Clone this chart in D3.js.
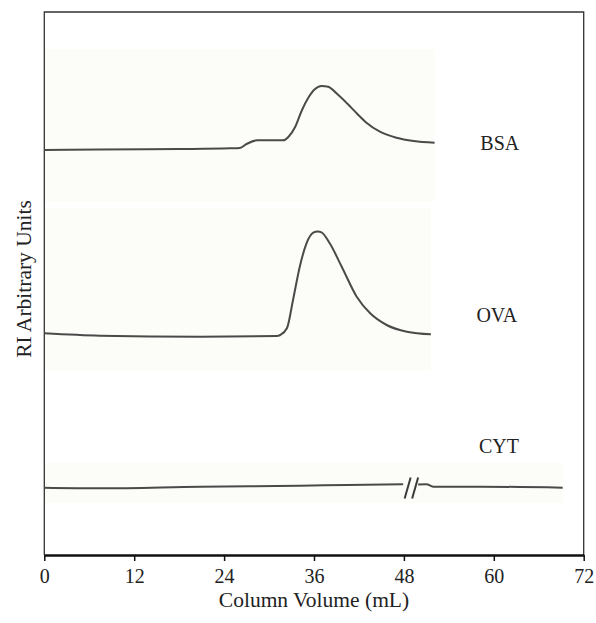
<!DOCTYPE html>
<html>
<head>
<meta charset="utf-8">
<script src="https://cdn.jsdelivr.net/npm/d3@7"></script>
<style>
  html, body { margin: 0; padding: 0; background: #fff; }
  svg { display: block; }
  text { font-family: "Liberation Serif", "Times New Roman", serif; fill: #222; }
</style>
</head>
<body>
<svg id="chart" width="596" height="623"></svg>
<script>
// ---- data (Column volume in mL, RI in arbitrary units) ----
const xTicks = [0, 12, 24, 36, 48, 60, 72];

const bsaX = [0, 7.4, 18.1, 24.8, 26.1, 27.0, 28.4, 31.9, 32.6, 33.5, 34.4, 35.2, 36.1, 37.0, 37.9, 39.0, 40.4, 41.7, 43.0, 44.8, 47.0, 49.3, 52.1];
const bsaY = [405, 405.5, 406, 406.7, 407, 411, 414.7, 414.7, 418.3, 428.3, 445, 456.7, 465.7, 469, 468.3, 461.7, 451.7, 441.7, 432.3, 423.3, 417.3, 414, 412.3];

const ovaX = [0, 7.4, 20.8, 31.0, 31.5, 32.4, 33.2, 34.1, 35.0, 35.9, 36.5, 37.0, 38.1, 39.7, 41.7, 43.5, 45.7, 48.4, 51.6];
const ovaY = [221.7, 219.3, 218.3, 219, 220, 227, 255, 288.3, 311.7, 322.3, 323.5, 322.7, 311.7, 288.3, 258.3, 241.7, 230, 223.3, 220.7];

const cytLeftX = [0, 7.4, 20.8, 34.1, 40.4, 47.9];
const cytLeftY = [67.3, 66.7, 68.3, 69.3, 70, 70.7];
const cytRightX = [49.9, 51.0, 51.9, 58.2, 69.2];
const cytRightY = [70.5, 70.8, 68.3, 68.3, 67.3];
const breakX = [48.5, 49.5];
const breakY = 67;

const seriesNames = ["BSA", "OVA", "CYT"];
const labelX = [60.8, 60.4, 60.7];
const labelY = [405, 233.3, 102];

// scanned trace backgrounds: [x0, x1, y0, y1]
const panelX0 = [0, 0, 0];
const panelX1 = [52.0, 51.6, 69.2];
const panelY0 = [353.3, 185, 52];
const panelY1 = [506, 347, 92.3];

// ---- drawing ----
const svg = d3.select("#chart");
const mLeft = 44.3, mRight = 583.7, mTop = 12, mBottom = 555;
const x = d3.scaleLinear().domain([0, 72]).range([mLeft, mRight]);
const y = d3.scaleLinear().domain([0, 543]).range([mBottom, mTop]);

// panels
svg.append("g").selectAll("rect").data(seriesNames).join("rect")
  .attr("x", (d, i) => x(panelX0[i]))
  .attr("width", (d, i) => x(panelX1[i]) - x(panelX0[i]))
  .attr("y", (d, i) => y(panelY1[i]))
  .attr("height", (d, i) => y(panelY0[i]) - y(panelY1[i]))
  .attr("fill", "#fcfcf8");

// frame (top, left, right)
svg.append("path")
  .attr("d", `M${mLeft},${mBottom} V${mTop} H${mRight} V${mBottom}`)
  .attr("fill", "none").attr("stroke", "#333").attr("stroke-width", 1.3);

const line = d3.line().x(d => x(d[0])).y(d => y(d[1])).curve(d3.curveMonotoneX);
const traces = [
  d3.zip(bsaX, bsaY),
  d3.zip(ovaX, ovaY),
  d3.zip(cytLeftX, cytLeftY),
  d3.zip(cytRightX, cytRightY)
];
svg.append("g").selectAll("path").data(traces).join("path")
  .attr("d", line)
  .attr("fill", "none")
  .attr("stroke", "#4a4a4a")
  .attr("stroke-width", 2)
  .attr("stroke-linejoin", "round");

// axis break marks
svg.append("g").selectAll("line").data(breakX).join("line")
  .attr("x1", d => x(d - 0.4)).attr("y1", y(breakY - 10.5))
  .attr("x2", d => x(d + 0.4)).attr("y2", y(breakY + 10.5))
  .attr("stroke", "#3a3a3a").attr("stroke-width", 2);

// series labels
svg.append("g").selectAll("text").data(seriesNames).join("text")
  .attr("x", (d, i) => x(labelX[i]))
  .attr("y", (d, i) => y(labelY[i]))
  .attr("text-anchor", "middle")
  .attr("font-size", 20)
  .text(d => d);

// x axis
const xAxis = svg.append("g")
  .attr("transform", `translate(0,${mBottom})`)
  .call(d3.axisBottom(x).tickValues(xTicks).tickSize(6).tickSizeOuter(0).tickPadding(8));
xAxis.select(".domain").attr("stroke", "#111").attr("stroke-width", 2.5);
xAxis.selectAll(".tick line").attr("stroke", "#111").attr("stroke-width", 1.5);
xAxis.selectAll(".tick text")
  .attr("font-family", "\"Liberation Serif\", \"Times New Roman\", serif")
  .attr("font-size", 20).attr("fill", "#222");

// axis titles
svg.append("text")
  .attr("x", (mLeft + mRight) / 2).attr("y", 607)
  .attr("text-anchor", "middle").attr("font-size", 21.5)
  .text("Column Volume (mL)");
svg.append("text")
  .attr("transform", `translate(31,${279}) rotate(-90)`)
  .attr("text-anchor", "middle").attr("font-size", 21.5)
  .text("RI Arbitrary Units");
</script>
</body>
</html>
